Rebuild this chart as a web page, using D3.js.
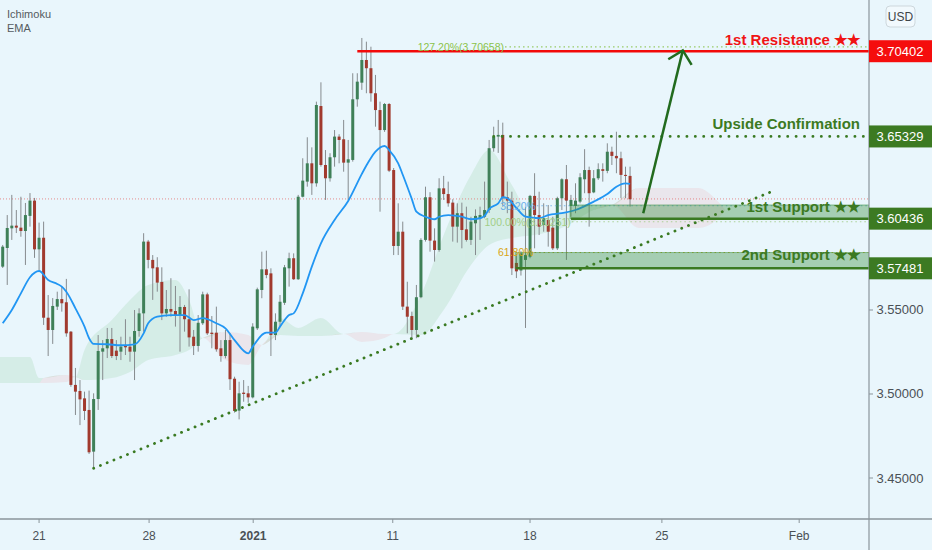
<!DOCTYPE html>
<html><head><meta charset="utf-8">
<script src="https://cdn.jsdelivr.net/npm/d3@7"></script>
<style>html,body{margin:0;padding:0;background:#e9f6fc;overflow:hidden}</style>
</head><body><svg id="c" width="932" height="550"></svg>
<script>
// ---------- DATA ----------
const opens = [3.5758,3.5869,3.5986,3.6002,3.5990,3.5970,3.6060,3.6151,3.5861,3.5930,
3.5454,3.5381,3.5520,3.5565,3.5546,3.5371,3.5054,3.5018,3.4974,3.4905,
3.4657,3.4970,3.5252,3.5272,3.5327,3.5258,3.5252,3.5287,3.5282,3.5252,
3.5375,3.5480,3.5907,3.5798,3.5754,3.5667,3.5480,3.5506,3.5494,3.5470,
3.5518,3.5445,3.5341,3.5286,3.5421,3.5593,3.5365,3.5365,3.5272,3.5226,
3.5321,3.5091,3.4901,3.5008,3.5004,3.4980,3.5391,3.5619,3.5742,3.5718,
3.5351,3.5430,3.5543,3.5748,3.5808,3.5683,3.6174,3.6264,3.6373,3.6254,
3.6714,3.6363,3.6284,3.6409,3.6532,3.6516,3.6377,3.6393,3.6754,3.6853,
3.6988,3.6939,3.6790,3.6690,3.6571,3.6726,3.6333,3.5881,3.5966,3.5520,
3.5464,3.5381,3.5576,3.5917,3.6171,3.5913,3.5857,3.6224,3.6190,3.6139,
3.5996,3.6076,3.5980,3.5917,3.6016,3.6046,3.6055,3.6095,3.6463,3.6532,
3.6542,3.6171,3.6151,3.5780,3.5735,3.5798,3.5817,3.6179,3.6065,3.6006,
3.6036,3.5990,3.5867,3.6165,3.6278,3.6119,3.6119,3.6145,3.6278,3.6333,
3.6200,3.6284,3.6338,3.6328,3.6442,3.6417,3.6403,3.6304,3.6298];
const highs = [3.5887,3.6065,3.6185,3.6095,3.6174,3.6137,3.6196,3.6167,3.6020,3.6026,
3.5589,3.5571,3.5609,3.5637,3.5685,3.5375,3.5155,3.5083,3.5014,3.5020,
3.5004,3.5351,3.5321,3.5393,3.5393,3.5321,3.5341,3.5445,3.5341,3.5500,
3.5510,3.5957,3.5917,3.5827,3.5814,3.5754,3.5619,3.5689,3.5643,3.5583,
3.5530,3.5623,3.5381,3.5470,3.5609,3.5603,3.5464,3.5520,3.5321,3.5381,
3.5361,3.5103,3.5073,3.5083,3.5048,3.5421,3.5633,3.5847,3.5853,3.5748,
3.5480,3.5589,3.5768,3.5841,3.5837,3.6185,3.6403,3.6528,3.6468,3.6740,
3.6855,3.6452,3.6433,3.6571,3.6546,3.6631,3.6512,3.6909,3.6909,3.7119,
3.7097,3.7067,3.6899,3.6740,3.6732,3.6732,3.6345,3.6135,3.6026,3.5668,
3.5490,3.5649,3.5927,3.6234,3.6201,3.5986,3.6284,3.6298,3.6264,3.6159,
3.6135,3.6139,3.6115,3.6055,3.6099,3.6115,3.6264,3.6512,3.6591,3.6631,
3.6615,3.6264,3.6204,3.5830,3.5850,3.6113,3.6185,3.6314,3.6204,3.6135,
3.6125,3.6055,3.6174,3.6284,3.6363,3.6185,3.6254,3.6314,3.6457,3.6353,
3.6333,3.6373,3.6373,3.6492,3.6472,3.6561,3.6442,3.6353,3.6353];
const lows = [3.5750,3.5649,3.5917,3.5958,3.5936,3.5768,3.5996,3.5810,3.5738,3.5411,
3.5226,3.5298,3.5500,3.5490,3.5341,3.5043,3.4875,3.4815,3.4845,3.4643,
3.4558,3.4905,3.5083,3.5214,3.5214,3.5202,3.5202,3.5232,3.5192,3.5083,
3.5341,3.5371,3.5748,3.5560,3.5609,3.5440,3.5460,3.5460,3.5401,3.5252,
3.5371,3.5282,3.5232,3.5252,3.5411,3.5351,3.5272,3.5252,3.5192,3.5212,
3.5024,3.4889,3.4849,3.4954,3.4948,3.4974,3.5381,3.5570,3.5689,3.5226,
3.5321,3.5401,3.5530,3.5639,3.5679,3.5679,3.6170,3.6234,3.6185,3.6234,
3.6353,3.6155,3.6264,3.6353,3.6373,3.6323,3.6155,3.6383,3.6710,3.6810,
3.6790,3.6740,3.6591,3.6085,3.6560,3.6321,3.5827,3.5827,3.5500,3.5361,
3.5332,3.5332,3.5570,3.5907,3.5847,3.5788,3.5847,3.6155,3.6115,3.5907,
3.5901,3.5867,3.5907,3.5887,3.5827,3.5917,3.6046,3.6077,3.6442,3.6435,
3.6115,3.6076,3.5708,3.5690,3.5705,3.5393,3.5808,3.5867,3.5946,3.5966,
3.5877,3.5857,3.5857,3.6095,3.5798,3.6055,3.6076,3.6135,3.6195,3.5996,
3.6195,3.6274,3.6264,3.6314,3.6363,3.6314,3.6165,3.6165,3.6115];
const closes = [3.5877,3.5988,3.6002,3.5990,3.5970,3.6065,3.6151,3.5861,3.5930,3.5454,
3.5381,3.5524,3.5565,3.5540,3.5361,3.5054,3.5014,3.4968,3.4899,3.4653,
3.4970,3.5256,3.5272,3.5327,3.5226,3.5226,3.5282,3.5278,3.5252,3.5375,
3.5480,3.5907,3.5798,3.5748,3.5663,3.5480,3.5506,3.5490,3.5470,3.5518,
3.5445,3.5337,3.5286,3.5424,3.5593,3.5361,3.5357,3.5266,3.5226,3.5321,
3.5088,3.4899,3.5004,3.5000,3.4980,3.5401,3.5623,3.5742,3.5708,3.5351,
3.5430,3.5549,3.5754,3.5808,3.5683,3.6174,3.6270,3.6373,3.6254,3.6720,
3.6363,3.6284,3.6409,3.6532,3.6512,3.6377,3.6397,3.6754,3.6859,3.6988,
3.6939,3.6790,3.6690,3.6571,3.6726,3.6329,3.5881,3.5966,3.5520,3.5460,
3.5381,3.5576,3.5917,3.6171,3.5913,3.5857,3.6224,3.6190,3.6135,3.5996,
3.6076,3.5976,3.5917,3.6026,3.6060,3.6065,3.6095,3.6463,3.6532,3.6542,
3.6165,3.6151,3.5748,3.5730,3.5837,3.5827,3.6179,3.6065,3.5996,3.6046,
3.5966,3.5867,3.6165,3.6278,3.6151,3.6155,3.6151,3.6290,3.6333,3.6195,
3.6284,3.6338,3.6328,3.6442,3.6417,3.6403,3.6304,3.6298,3.6159];

// EMA (bar index, value)
const emaIdx = [0,2,4,6,8,10,12,13,14,16,18,19,20,23,26,29,31,32,34,37,40,42,44,47,49,51,54,55,58,60,61,63,64,66,68,70,73,76,79,80,81,82,84,85,87,88,90,91,93,95,96,98,101,103,105,106,107,109,110,111,113,115,118,120,123,126,130,133,135,137,138];
const emaVal = [3.5421,3.5500,3.5599,3.5695,3.5732,3.5679,3.5655,3.5639,3.5609,3.5510,3.5401,3.5332,3.5298,3.5296,3.5290,3.5295,3.5361,3.5421,3.5460,3.5470,3.5470,3.5440,3.5451,3.5421,3.5391,3.5321,3.5242,3.5282,3.5365,3.5365,3.5401,3.5470,3.5480,3.5599,3.5758,3.5897,3.6036,3.6149,3.6310,3.6360,3.6405,3.6442,3.6476,3.6452,3.6373,3.6305,3.6160,3.6085,3.6055,3.6040,3.6055,3.6065,3.6055,3.6040,3.6046,3.6060,3.6101,3.6135,3.6171,3.6165,3.6107,3.6055,3.6046,3.6065,3.6076,3.6095,3.6145,3.6190,3.6234,3.6254,3.6250];

// Ichimoku cloud spans (bar index, span A, span B)
const cloudIdx = [-1,6,8,9,14,16,18,24,28,32,38,41,44,49,54,57,61,65,70,75,79,84,86,92,97,103,107,112,117,124,130,134,140,153,157,159];
const spanA = [3.5220,3.5220,3.5095,3.5065,3.5071,3.5101,3.5262,3.5440,3.5560,3.5649,3.5679,3.5560,3.5333,3.5202,3.5173,3.5292,3.5452,3.5393,3.5452,3.5357,3.5310,3.5333,3.5357,3.5589,3.5946,3.6304,3.6452,3.6244,3.6036,3.6083,3.6125,3.6125,3.5988,3.5988,3.6036,3.6095];
const spanB = [3.5065,3.5065,3.5065,3.5095,3.5113,3.5101,3.5083,3.5095,3.5131,3.5202,3.5232,3.5262,3.5333,3.5369,3.5351,3.5292,3.5351,3.5345,3.5345,3.5357,3.5369,3.5357,3.5357,3.5351,3.5500,3.5768,3.5887,3.5929,3.5946,3.6000,3.6095,3.6125,3.6226,3.6226,3.6155,3.6095];

// axes
const dateIdx = [8,32.2,55.1,85.8,116,145,175.2];
const dateLabels = ["21","28","2021","11","18","25","Feb"];
const priceTicks = [3.45,3.50,3.55];
const lastPrice = 3.6161;

// annotation levels
const levelPrices = [3.70402,3.65329,3.60436,3.57481];
const levelLabels = ["1st Resistance \u2605\u2605","Upside Confirmation","1st Support \u2605\u2605","2nd Support \u2605\u2605"];
const levelKinds = ["res","confirm","sup","sup"];
const levelStart = [78,108,124.8,112.7];
const zoneTops = [null,null,3.6125,3.5842];

// fib levels
const fibPrices = [3.70658,3.6120,3.60251,3.5842];
const fibLabels = ["127.20%(3.70658)","38.20%","100.00%(3.60251)","61.80%"];
const fibColors = ["#8bc34a","#6aaee8","#a2cd88","#d9a514"];
const fibStart = [110.5,117.5,125.2,117];

// trendline and arrow (bar index, price)
const trendIdx = [20,168.8], trendPrice = [3.4558,3.6201];
const arrowIdx = [140.9,149.6], arrowPrice = [3.6076,3.7045];

// ---------- DRAW ----------
const W=932,H=550,PR=869,PB=519;
const FONT="Liberation Sans, Arial, sans-serif";
const x = d3.scaleLinear().domain([-0.594,190.56]).range([0,PR]);
const y = d3.scaleLinear().domain([3.4256,3.7345]).range([PB,0]);
const svg = d3.select("#c");
svg.append("rect").attr("width",W).attr("height",H).attr("fill","#e9f6fc");
svg.append("clipPath").attr("id","pc").append("rect").attr("x",0).attr("y",0).attr("width",PR).attr("height",PB);
const g = svg.append("g").attr("clip-path","url(#pc)");

// cloud
const cloud = cloudIdx.map((d,i)=>({i:d,a:spanA[i],b:spanB[i]}));
g.append("path").datum(cloud)
 .attr("d", d3.area().curve(d3.curveMonotoneX).x(d=>x(d.i)).y0(d=>y(d.b)).y1(d=>y(Math.max(d.a,d.b))))
 .attr("fill","rgba(76,175,80,0.12)");
g.append("path").datum(cloud)
 .attr("d", d3.area().curve(d3.curveMonotoneX).x(d=>x(d.i)).y0(d=>y(d.b)).y1(d=>y(Math.min(d.a,d.b))))
 .attr("fill","rgba(239,83,80,0.09)");

// last price line
g.append("line").attr("x1",0).attr("x2",PR).attr("y1",y(lastPrice)).attr("y2",y(lastPrice))
 .attr("stroke","#e57373").attr("stroke-width",1).attr("stroke-dasharray","1 2").attr("opacity",0.8);

// candles
const bars = opens.map((o,i)=>({i,o,h:highs[i],l:lows[i],c:closes[i]}));
const cg = g.append("g");
cg.selectAll("line.w").data(bars).join("line").attr("class","w")
 .attr("x1",d=>x(d.i)).attr("x2",d=>x(d.i)).attr("y1",d=>y(d.h)).attr("y2",d=>y(d.l))
 .attr("stroke","#868b8e").attr("stroke-width",1);
cg.selectAll("rect.b").data(bars).join("rect").attr("class","b")
 .attr("x",d=>x(d.i)-1.5).attr("width",3)
 .attr("y",d=>y(Math.max(d.o,d.c)))
 .attr("height",d=>Math.max(1,Math.abs(y(d.o)-y(d.c))))
 .attr("fill",d=>d.c>=d.o?"#3f8058":"#a13a2e");

// EMA
g.append("path").datum(emaIdx.map((d,i)=>[d,emaVal[i]]))
 .attr("d", d3.line().curve(d3.curveMonotoneX).x(d=>x(d[0])).y(d=>y(d[1])))
 .attr("fill","none").attr("stroke","#2196f3").attr("stroke-width",1.8);

// fib lines
fibPrices.forEach((p,k)=>{
  g.append("line").attr("x1",x(fibStart[k])).attr("x2",PR).attr("y1",y(p)).attr("y2",y(p))
    .attr("stroke",fibColors[k]).attr("stroke-width",1.1).attr("stroke-dasharray","1.5 3").attr("opacity",0.85);
});

// zones and level lines
levelPrices.forEach((p,k)=>{
  if (zoneTops[k]!==null){
    g.append("rect").attr("x",x(levelStart[k])).attr("width",PR-x(levelStart[k]))
     .attr("y",y(zoneTops[k])).attr("height",y(p)-y(zoneTops[k]))
     .attr("fill","rgba(56,142,60,0.38)").attr("stroke","rgba(56,142,60,0.5)").attr("stroke-width",1);
    g.append("line").attr("x1",x(levelStart[k])+1).attr("x2",PR).attr("y1",y(p)).attr("y2",y(p))
     .attr("stroke","#3a7a22").attr("stroke-width",2.5);
  } else if (levelKinds[k]==="res"){
    g.append("line").attr("x1",x(levelStart[k])).attr("x2",PR).attr("y1",y(p)).attr("y2",y(p))
     .attr("stroke","#f20a0a").attr("stroke-width",2.5);
  } else {
    g.append("line").attr("x1",x(levelStart[k])).attr("x2",PR).attr("y1",y(p)).attr("y2",y(p))
     .attr("stroke","#3a7a22").attr("stroke-width",2.8).attr("stroke-linecap","round").attr("stroke-dasharray","0.1 8.3");
  }
});

// fib labels
fibPrices.forEach((p,k)=>{
  g.append("text").attr("x",x(fibStart[k])-1).attr("y",y(p)+3.8).attr("text-anchor","end")
   .attr("font-family",FONT).attr("font-size",10.5)
   .attr("fill",fibColors[k]).text(fibLabels[k]);
});

// trendline
g.append("line").attr("x1",x(trendIdx[0])).attr("y1",y(trendPrice[0])).attr("x2",x(trendIdx[1])).attr("y2",y(trendPrice[1]))
 .attr("stroke","#3a7a22").attr("stroke-width",2.8).attr("stroke-linecap","round").attr("stroke-dasharray","0.1 7.2");

// arrow
{
  const x1=x(arrowIdx[0]), y1=y(arrowPrice[0]), x2=x(arrowIdx[1]), y2=y(arrowPrice[1]);
  const back=Math.atan2(y1-y2,x1-x2), L=17, s=Math.PI/4;
  g.append("line").attr("x1",x1).attr("y1",y1).attr("x2",x2).attr("y2",y2)
   .attr("stroke","#226b1e").attr("stroke-width",2.5);
  g.append("path").attr("d",`M${x2+L*Math.cos(back+s)},${y2+L*Math.sin(back+s)}L${x2},${y2}L${x2+L*Math.cos(back-s)},${y2+L*Math.sin(back-s)}`)
   .attr("fill","none").attr("stroke","#226b1e").attr("stroke-width",2.5);
}

// level texts
const textBase = [-6,-7,-7,-7];
levelPrices.forEach((p,k)=>{
  const yy = zoneTops[k]!==null ? y(zoneTops[k])+7.5 : y(p)+textBase[k];
  svg.append("text").attr("x",860).attr("y",yy).attr("text-anchor","end")
   .attr("font-family",FONT).attr("font-weight","bold").attr("font-size",15)
   .attr("fill",levelKinds[k]==="res"?"#f01414":"#3c7a22").text(levelLabels[k]);
});

// axes lines
svg.append("line").attr("x1",0).attr("x2",W).attr("y1",PB).attr("y2",PB).attr("stroke","#8a959b").attr("stroke-width",1.5);
svg.append("line").attr("x1",PR).attr("x2",PR).attr("y1",0).attr("y2",H).attr("stroke","#8a959b").attr("stroke-width",1.2);

// date axis
dateIdx.forEach((d,k)=>{
  svg.append("line").attr("x1",x(d)).attr("x2",x(d)).attr("y1",PB).attr("y2",PB+4).attr("stroke","#8a959b");
  svg.append("text").attr("x",x(d)).attr("y",540).attr("text-anchor","middle")
   .attr("font-family",FONT).attr("font-size",12)
   .attr("font-weight",dateLabels[k]==="2021"?"bold":"normal")
   .attr("fill","#4a5055").text(dateLabels[k]);
});

// price axis ticks
priceTicks.forEach(p=>{
  svg.append("line").attr("x1",PR).attr("x2",PR+4).attr("y1",y(p)).attr("y2",y(p)).attr("stroke","#8a959b");
  svg.append("text").attr("x",900).attr("y",y(p)+4.5).attr("text-anchor","middle")
   .attr("font-family",FONT).attr("font-size",13)
   .attr("fill","#4a5055").text(d3.format(".5f")(p));
});

// price level labels
levelPrices.forEach((p,k)=>{
  svg.append("rect").attr("x",PR).attr("y",y(p)-11).attr("width",W-PR).attr("height",22)
   .attr("fill",levelKinds[k]==="res"?"#f50d0d":"#3c7a22");
  svg.append("text").attr("x",900).attr("y",y(p)+4.5).attr("text-anchor","middle")
   .attr("font-family",FONT).attr("font-size",13)
   .attr("fill","#ffffff").text(d3.format(".5f")(p));
});

// USD button
svg.append("rect").attr("x",886).attr("y",6).attr("width",29).attr("height",21).attr("rx",4)
 .attr("fill","#f1f9fd").attr("stroke","#cdd7dc");
svg.append("text").attr("x",900.5).attr("y",21).attr("text-anchor","middle")
 .attr("font-family",FONT).attr("font-size",12).attr("fill","#3d4448").text("USD");

// legend
["Ichimoku","EMA"].forEach((t,k)=>{
  svg.append("text").attr("x",7).attr("y",18+k*14).attr("font-family",FONT)
   .attr("font-size",11).attr("fill","#555b60").text(t);
});
</script>
</body></html>
